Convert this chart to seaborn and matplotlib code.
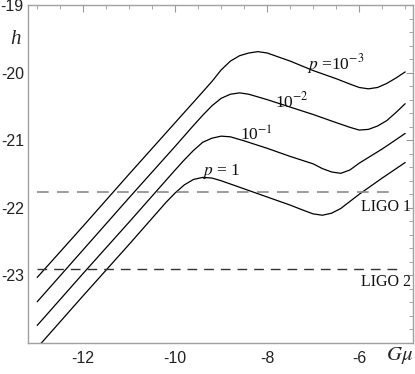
import numpy as np
import pandas as pd
import matplotlib
matplotlib.use("Agg")
import matplotlib.pyplot as plt
from matplotlib.ticker import MultipleLocator
import seaborn as sns

# log10(G mu) and log10(h), one curve per p
gmu_p3 = [-13.0, -12.0, -11.0, -10.0, -9.5, -9.2, -9.0, -8.8, -8.6, -8.4, -8.2, -8.0,
          -7.5, -7.0, -6.5, -6.2, -6.0, -5.8, -5.6, -5.4, -5.2, -5.0]
h_p3 = [-23.03, -22.27, -21.50, -20.74, -20.36, -20.13, -19.96, -19.83, -19.75, -19.71,
        -19.69, -19.71, -19.83, -19.97, -20.09, -20.17, -20.22, -20.24, -20.22, -20.16,
        -20.08, -19.99]

gmu_p2 = [-13.0, -12.0, -11.0, -10.0, -9.6, -9.4, -9.2, -9.0, -8.8, -8.6, -8.4, -8.0,
          -7.5, -7.0, -6.5, -6.2, -6.0, -5.8, -5.6, -5.4, -5.2, -5.0]
h_p2 = [-23.39, -22.62, -21.85, -21.09, -20.78, -20.63, -20.49, -20.38, -20.32, -20.30,
        -20.32, -20.40, -20.51, -20.62, -20.74, -20.81, -20.85, -20.84, -20.79, -20.71,
        -20.59, -20.46]

gmu_p1 = [-13.0, -12.0, -11.0, -10.0, -9.8, -9.6, -9.4, -9.2, -9.0, -8.8, -8.5, -8.0,
          -7.5, -7.0, -6.8, -6.6, -6.4, -6.2, -6.0, -5.5, -5.0]
h_p1 = [-23.74, -22.97, -22.21, -21.44, -21.29, -21.15, -21.03, -20.97, -20.94, -20.95,
        -21.01, -21.12, -21.24, -21.35, -21.42, -21.47, -21.49, -21.44, -21.34, -21.13,
        -20.90]

gmu_p0 = [-13.0, -12.0, -11.0, -10.2, -10.0, -9.8, -9.6, -9.4, -9.2, -9.0, -8.5, -8.0,
          -7.5, -7.2, -7.0, -6.8, -6.6, -6.4, -6.0, -5.5, -5.0]
h_p0 = [-24.07, -23.30, -22.54, -21.92, -21.78, -21.66, -21.58, -21.55, -21.56, -21.60,
        -21.72, -21.84, -21.96, -22.04, -22.09, -22.11, -22.08, -22.01, -21.80, -21.56,
        -21.33]

p_names = ["1e-3", "1e-2", "1e-1", "1"]
p_labels = [r"$p$ =10$^{-3}$", r"10$^{-2}$", r"10$^{-1}$", r"$p$ = 1"]

ligo_levels = [-21.77, -22.90]
ligo_names = ["LIGO 1", "LIGO 2"]

xticks = [-12, -10, -8, -6]
yticks = [-19, -20, -21, -22, -23]

frames = []
for name, xs, ys in zip(p_names, [gmu_p3, gmu_p2, gmu_p1, gmu_p0],
                        [h_p3, h_p2, h_p1, h_p0]):
    frames.append(pd.DataFrame({"gmu": xs, "h": ys, "p": name}))
df = pd.concat(frames, ignore_index=True)

sns.set_style("white")
plt.rcParams["mathtext.fontset"] = "stix"

fig = plt.figure(figsize=(4.15, 3.74), dpi=100)
ax = fig.add_axes([28 / 415, 1 - 343 / 374, 385 / 415, 338 / 374])

sns.lineplot(data=df, x="gmu", y="h", hue="p", palette=["black"] * 4,
             estimator=None, sort=False, legend=False, linewidth=0.9, ax=ax)

# LIGO sensitivity lines
ax.hlines(ligo_levels[0], -13.0, -5.17, colors="#8a8a8a", linestyles=(0, (7, 5)),
          linewidth=1.2)
ax.hlines(ligo_levels[1], -13.0, -5.17, colors="#333333", linestyles=(0, (7, 5)),
          linewidth=1.0)

serif = ["Liberation Serif", "DejaVu Serif"]
ax.text(-4.88, ligo_levels[0] - 0.22, ligo_names[0], ha="right", va="center",
        fontsize=11.5, family=serif, color="#111111")
ax.text(-4.88, ligo_levels[1] - 0.20, ligo_names[1], ha="right", va="center",
        fontsize=11.5, family=serif, color="#111111")

# curve labels
label_pos = [(-6.50, -19.88), (-7.46, -20.42), (-8.24, -20.93), (-9.0, -21.46)]
for (lx, ly), lab in zip(label_pos, p_labels):
    ax.text(lx, ly, lab, ha="center", va="center", fontsize=12.5, family=serif,
            color="#111111")

ax.set_xlim(-13.2, -4.83)
ax.set_ylim(-24, -19)
ax.set_xticks(xticks)
ax.set_yticks(yticks)
ax.set_xticklabels([str(t) for t in xticks])
ax.set_yticklabels([str(t) for t in yticks])
ax.xaxis.set_minor_locator(MultipleLocator(0.5))
ax.yaxis.set_minor_locator(MultipleLocator(0.2))
ax.set_xlabel("")
ax.set_ylabel("")

sans = ["Liberation Sans", "DejaVu Sans"]
ax.tick_params(which="both", direction="in", top=True, right=True, color="#999999",
               labelcolor="#222222")
ax.tick_params(which="major", length=5, width=0.8, labelsize=11.5)
ax.tick_params(which="minor", length=3, width=0.6)
ax.tick_params(axis="x", pad=5.5)
ax.tick_params(axis="y", pad=3)
for lab in ax.get_xticklabels() + ax.get_yticklabels():
    lab.set_family(sans)

for sp in ax.spines.values():
    sp.set_visible(True)
    sp.set_color("#a0a0a0")
    sp.set_linewidth(1.0)

fig.text(15 / 415, 1 - 40 / 374, "h", style="italic", fontsize=15, family=serif,
         ha="center", va="center")
fig.text(400 / 415, 1 - 356 / 374, r"$G\mu$", fontsize=15, ha="center", va="center")

fig.savefig("out.png", dpi=100)
